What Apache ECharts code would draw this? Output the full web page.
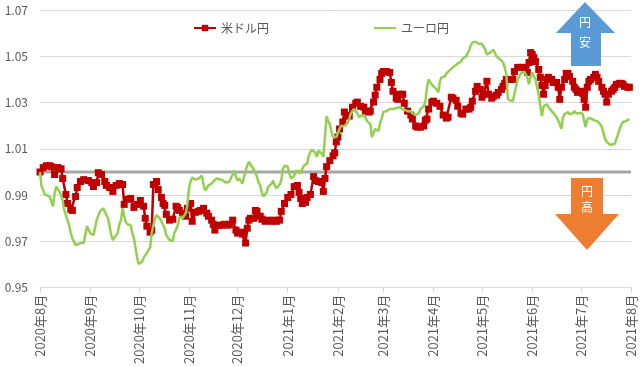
<!DOCTYPE html>
<html><head><meta charset="utf-8">
<script src="https://cdn.jsdelivr.net/npm/echarts@6/dist/echarts.min.js"></script>
<style>html,body{margin:0;padding:0;background:#fff}#c{width:640px;height:367px}</style>
</head><body><div id="c"></div>
<script>
const seriesNames = ['米ドル円', 'ユーロ円'];
const monthTicks = ['2020-08-01','2020-09-01','2020-10-01','2020-11-01','2020-12-01','2021-01-01','2021-02-01','2021-03-01','2021-04-01','2021-05-01','2021-06-01','2021-07-01','2021-08-01'];
const yMin = 0.95, yMax = 1.07, yStep = 0.02;
const baseline = 1.0;

const usdDates = [
'2020-08-01','2020-08-03','2020-08-05','2020-08-07','2020-08-08','2020-08-10','2020-08-12','2020-08-14','2020-08-15','2020-08-17','2020-08-18','2020-08-20','2020-08-21','2020-08-23','2020-08-24','2020-08-26','2020-08-28','2020-08-31',
'2020-09-02','2020-09-03','2020-09-05','2020-09-06','2020-09-08','2020-09-10','2020-09-11','2020-09-13','2020-09-15','2020-09-17','2020-09-19','2020-09-21','2020-09-22','2020-09-24','2020-09-26','2020-09-28','2020-09-30',
'2020-10-02','2020-10-04','2020-10-05','2020-10-06','2020-10-08','2020-10-09','2020-10-10','2020-10-12','2020-10-13','2020-10-15','2020-10-16','2020-10-17','2020-10-18','2020-10-20','2020-10-22','2020-10-24','2020-10-25','2020-10-26','2020-10-28','2020-10-30','2020-10-31',
'2020-11-02','2020-11-03','2020-11-05','2020-11-07','2020-11-08','2020-11-10','2020-11-12','2020-11-13','2020-11-15','2020-11-16','2020-11-17','2020-11-19','2020-11-21','2020-11-23','2020-11-25','2020-11-26','2020-11-28','2020-11-30',
'2020-12-01','2020-12-03','2020-12-04','2020-12-06','2020-12-07','2020-12-08','2020-12-09','2020-12-11','2020-12-12','2020-12-13','2020-12-15','2020-12-16','2020-12-18','2020-12-20','2020-12-22','2020-12-24','2020-12-25','2020-12-27','2020-12-28','2020-12-30',
'2021-01-01','2021-01-03','2021-01-05','2021-01-07','2021-01-08','2021-01-09','2021-01-10','2021-01-12','2021-01-13','2021-01-15','2021-01-17','2021-01-18','2021-01-20','2021-01-22','2021-01-23','2021-01-24','2021-01-25','2021-01-27','2021-01-29','2021-01-30','2021-01-31',
'2021-02-01','2021-02-02','2021-02-04','2021-02-05','2021-02-07','2021-02-08','2021-02-10','2021-02-12','2021-02-13','2021-02-15','2021-02-17','2021-02-18','2021-02-20','2021-02-21','2021-02-23','2021-02-24','2021-02-25','2021-02-27','2021-02-28',
'2021-03-01','2021-03-03','2021-03-05','2021-03-06','2021-03-07','2021-03-09','2021-03-10','2021-03-11','2021-03-13','2021-03-14','2021-03-16','2021-03-18','2021-03-19','2021-03-21','2021-03-22','2021-03-24','2021-03-26','2021-03-27','2021-03-28','2021-03-29','2021-03-31',
'2021-04-01','2021-04-03','2021-04-05','2021-04-07','2021-04-09','2021-04-10','2021-04-12','2021-04-13','2021-04-15','2021-04-16','2021-04-18','2021-04-19','2021-04-21','2021-04-23','2021-04-24','2021-04-25','2021-04-27','2021-04-28','2021-04-30',
'2021-05-01','2021-05-02','2021-05-04','2021-05-05','2021-05-07','2021-05-08','2021-05-10','2021-05-11','2021-05-13','2021-05-14','2021-05-15','2021-05-16','2021-05-18','2021-05-20','2021-05-21','2021-05-23','2021-05-25','2021-05-26','2021-05-28','2021-05-29','2021-05-30','2021-05-31',
'2021-06-01','2021-06-02','2021-06-03','2021-06-05','2021-06-06','2021-06-07','2021-06-08','2021-06-09','2021-06-10','2021-06-11','2021-06-13','2021-06-14','2021-06-16','2021-06-17','2021-06-18','2021-06-19','2021-06-21','2021-06-22','2021-06-23','2021-06-24','2021-06-26','2021-06-27','2021-06-28','2021-06-29',
'2021-07-01','2021-07-02','2021-07-03','2021-07-04','2021-07-05','2021-07-06','2021-07-07','2021-07-09','2021-07-10','2021-07-11','2021-07-12','2021-07-14','2021-07-15','2021-07-16','2021-07-17','2021-07-18','2021-07-20','2021-07-21','2021-07-22','2021-07-23','2021-07-25','2021-07-26','2021-07-27','2021-07-28','2021-07-30','2021-07-31'
];
const usdValues = [
1.0000,1.0019,1.0027,1.0027,1.0023,0.9989,1.0019,1.0014,0.9972,0.9903,0.9864,0.9839,0.9834,0.9894,0.9933,0.9959,0.9967,0.9963,
0.9954,0.9937,0.9954,0.9997,0.9989,0.9959,0.9942,0.9933,0.9916,0.9942,0.9950,0.9946,0.9860,0.9882,0.9886,0.9847,0.9860,
0.9877,0.9852,0.9800,0.9766,0.9740,0.9749,0.9946,0.9959,0.9924,0.9890,0.9864,0.9856,0.9817,0.9792,0.9796,0.9852,0.9847,0.9834,0.9822,0.9809,0.9843,
0.9864,0.9787,0.9826,0.9830,0.9834,0.9843,0.9822,0.9809,0.9792,0.9774,0.9749,0.9770,0.9770,0.9774,0.9770,0.9774,0.9792,0.9749,
0.9736,0.9740,0.9732,0.9693,0.9757,0.9792,0.9800,0.9800,0.9834,0.9830,0.9809,0.9796,0.9787,0.9792,0.9787,0.9792,0.9787,0.9792,0.9830,0.9864,
0.9890,0.9903,0.9937,0.9942,0.9912,0.9886,0.9864,0.9869,0.9890,0.9903,0.9980,0.9963,0.9959,0.9954,0.9916,0.9972,1.0023,1.0049,1.0070,1.0083,1.0130,
1.0151,1.0186,1.0216,1.0259,1.0242,1.0242,1.0280,1.0297,1.0302,1.0284,1.0280,1.0263,1.0259,1.0263,1.0302,1.0332,1.0366,1.0400,1.0426,
1.0434,1.0434,1.0430,1.0387,1.0349,1.0319,1.0314,1.0336,1.0336,1.0297,1.0263,1.0246,1.0229,1.0199,1.0194,1.0194,1.0199,1.0224,1.0229,1.0272,1.0302,
1.0306,1.0297,1.0284,1.0246,1.0233,1.0237,1.0323,1.0319,1.0310,1.0284,1.0254,1.0250,1.0272,1.0272,1.0280,1.0306,1.0349,1.0370,1.0357,
1.0323,1.0336,1.0392,1.0336,1.0319,1.0327,1.0332,1.0344,1.0357,1.0370,1.0383,1.0400,1.0400,1.0400,1.0434,1.0452,1.0452,1.0452,1.0447,1.0430,1.0473,1.0516,
1.0507,1.0494,1.0477,1.0443,1.0409,1.0374,1.0336,1.0374,1.0400,1.0409,1.0400,1.0387,1.0387,1.0366,1.0314,1.0366,1.0400,1.0426,1.0426,1.0413,1.0392,1.0366,1.0357,1.0344,
1.0349,1.0340,1.0314,1.0280,1.0366,1.0392,1.0400,1.0409,1.0422,1.0409,1.0392,1.0366,1.0349,1.0336,1.0302,1.0336,1.0349,1.0357,1.0366,1.0379,1.0383,1.0383,1.0379,1.0370,1.0366,1.0366
];

const eurDates = [
'2020-08-01','2020-08-02','2020-08-03','2020-08-04','2020-08-05','2020-08-07','2020-08-09','2020-08-10','2020-08-11','2020-08-13','2020-08-14','2020-08-15','2020-08-16','2020-08-18','2020-08-19','2020-08-20','2020-08-21','2020-08-23','2020-08-24','2020-08-26','2020-08-28','2020-08-29','2020-08-30','2020-08-31',
'2020-09-01','2020-09-03','2020-09-04','2020-09-05','2020-09-07','2020-09-09','2020-09-10','2020-09-12','2020-09-13','2020-09-14','2020-09-15','2020-09-16','2020-09-18','2020-09-19','2020-09-20','2020-09-21','2020-09-22','2020-09-23','2020-09-24','2020-09-26','2020-09-27','2020-09-28','2020-09-29','2020-09-30',
'2020-10-01','2020-10-02','2020-10-03','2020-10-04','2020-10-05','2020-10-06','2020-10-07','2020-10-08','2020-10-09','2020-10-10','2020-10-11','2020-10-12','2020-10-14','2020-10-15','2020-10-17','2020-10-18','2020-10-20','2020-10-21','2020-10-22','2020-10-23','2020-10-25','2020-10-26','2020-10-27','2020-10-28','2020-10-30','2020-10-31',
'2020-11-01','2020-11-02','2020-11-03','2020-11-04','2020-11-05','2020-11-07','2020-11-08','2020-11-09','2020-11-10','2020-11-11','2020-11-12','2020-11-13','2020-11-15','2020-11-16','2020-11-18','2020-11-19','2020-11-21','2020-11-22','2020-11-24','2020-11-25','2020-11-26','2020-11-28','2020-11-29','2020-11-30',
'2020-12-01','2020-12-02','2020-12-03','2020-12-04','2020-12-06','2020-12-07','2020-12-08','2020-12-09','2020-12-10','2020-12-12','2020-12-13','2020-12-14','2020-12-15','2020-12-16','2020-12-17','2020-12-18','2020-12-19','2020-12-20','2020-12-22','2020-12-23','2020-12-24','2020-12-25','2020-12-27','2020-12-28','2020-12-29','2020-12-30','2020-12-31',
'2021-01-01','2021-01-02','2021-01-03','2021-01-04','2021-01-05','2021-01-06','2021-01-07','2021-01-08','2021-01-09','2021-01-10','2021-01-11','2021-01-12','2021-01-13','2021-01-14','2021-01-15','2021-01-16','2021-01-17','2021-01-18','2021-01-19','2021-01-20','2021-01-21','2021-01-22','2021-01-23','2021-01-24','2021-01-25','2021-01-26','2021-01-27','2021-01-28','2021-01-29','2021-01-30','2021-01-31',
'2021-02-02','2021-02-03','2021-02-04','2021-02-05','2021-02-07','2021-02-08','2021-02-09','2021-02-10','2021-02-11','2021-02-12','2021-02-13','2021-02-14','2021-02-15','2021-02-16','2021-02-17','2021-02-18','2021-02-19','2021-02-20','2021-02-21','2021-02-22','2021-02-23','2021-02-24','2021-02-25','2021-02-26','2021-02-27','2021-02-28',
'2021-03-01','2021-03-03','2021-03-04','2021-03-05','2021-03-07','2021-03-09','2021-03-10','2021-03-11','2021-03-13','2021-03-14','2021-03-16','2021-03-18','2021-03-19','2021-03-21','2021-03-22','2021-03-23','2021-03-24','2021-03-26','2021-03-27','2021-03-28','2021-03-29','2021-03-30','2021-03-31',
'2021-04-01','2021-04-03','2021-04-04','2021-04-05','2021-04-06','2021-04-07','2021-04-08','2021-04-09','2021-04-11','2021-04-12','2021-04-13','2021-04-14','2021-04-16','2021-04-17','2021-04-18','2021-04-19','2021-04-21','2021-04-22','2021-04-23','2021-04-24','2021-04-25','2021-04-27','2021-04-28','2021-04-29','2021-04-30',
'2021-05-01','2021-05-02','2021-05-03','2021-05-04','2021-05-05','2021-05-06','2021-05-07','2021-05-08','2021-05-09','2021-05-10','2021-05-11','2021-05-13','2021-05-14','2021-05-15','2021-05-16','2021-05-17','2021-05-18','2021-05-20','2021-05-21','2021-05-22','2021-05-23','2021-05-24','2021-05-25','2021-05-26','2021-05-27','2021-05-28','2021-05-29','2021-05-30','2021-05-31',
'2021-06-01','2021-06-02','2021-06-03','2021-06-04','2021-06-05','2021-06-06','2021-06-07','2021-06-08','2021-06-09','2021-06-10','2021-06-11','2021-06-12','2021-06-13','2021-06-14','2021-06-15','2021-06-16','2021-06-18','2021-06-19','2021-06-20','2021-06-21','2021-06-22','2021-06-23','2021-06-24','2021-06-25','2021-06-26','2021-06-27','2021-06-28','2021-06-29','2021-06-30',
'2021-07-01','2021-07-02','2021-07-03','2021-07-04','2021-07-05','2021-07-06','2021-07-07','2021-07-08','2021-07-09','2021-07-11','2021-07-12','2021-07-13','2021-07-14','2021-07-15','2021-07-16','2021-07-17','2021-07-18','2021-07-19','2021-07-20','2021-07-22','2021-07-23','2021-07-24','2021-07-25','2021-07-26','2021-07-27','2021-07-28','2021-07-29','2021-07-30','2021-07-31'
];
const eurValues = [
1.0000,0.9937,0.9920,0.9903,0.9899,0.9894,0.9852,0.9907,0.9937,0.9916,0.9899,0.9877,0.9834,0.9792,0.9770,0.9736,0.9714,0.9684,0.9684,0.9693,0.9693,0.9693,0.9766,0.9766,
0.9736,0.9727,0.9727,0.9792,0.9830,0.9843,0.9843,0.9800,0.9766,0.9727,0.9706,0.9714,0.9736,0.9774,0.9792,0.9843,0.9809,0.9783,0.9774,0.9770,0.9736,0.9714,0.9672,0.9629,
0.9603,0.9599,0.9612,0.9629,0.9637,0.9650,0.9663,0.9672,0.9736,0.9770,0.9800,0.9813,0.9800,0.9787,0.9757,0.9727,0.9706,0.9702,0.9702,0.9736,0.9766,0.9800,0.9809,0.9800,0.9822,0.9856,
0.9929,0.9959,0.9976,0.9980,0.9967,0.9972,0.9980,0.9984,0.9946,0.9920,0.9929,0.9942,0.9950,0.9959,0.9972,0.9980,0.9967,0.9959,0.9954,0.9954,0.9959,0.9989,1.0006,0.9980,
0.9963,0.9972,0.9967,0.9950,1.0006,1.0027,1.0044,1.0032,1.0023,0.9997,0.9980,0.9954,0.9942,0.9912,0.9894,0.9886,0.9912,0.9937,0.9950,0.9963,0.9942,0.9929,0.9946,0.9963,1.0014,1.0027,1.0032,
1.0023,0.9993,0.9972,0.9976,0.9984,1.0006,1.0014,1.0002,0.9993,1.0014,1.0027,1.0032,1.0036,1.0070,1.0087,1.0096,1.0100,1.0083,1.0066,1.0092,1.0100,1.0079,1.0066,1.0151,1.0242,1.0220,1.0207,1.0173,1.0151,1.0151,1.0151,
1.0186,1.0199,1.0194,1.0199,1.0212,1.0229,1.0254,1.0263,1.0272,1.0263,1.0254,1.0237,1.0237,1.0246,1.0254,1.0237,1.0220,1.0212,1.0207,1.0151,1.0143,1.0186,1.0194,1.0177,1.0212,1.0229,
1.0259,1.0263,1.0263,1.0272,1.0272,1.0276,1.0280,1.0280,1.0272,1.0267,1.0263,1.0263,1.0254,1.0246,1.0242,1.0254,1.0272,1.0284,1.0306,1.0366,1.0400,1.0387,1.0379,
1.0370,1.0357,1.0344,1.0392,1.0409,1.0417,1.0413,1.0426,1.0439,1.0447,1.0452,1.0456,1.0469,1.0473,1.0477,1.0490,1.0499,1.0507,1.0524,1.0546,1.0559,1.0563,1.0563,1.0554,1.0550,
1.0554,1.0559,1.0529,1.0507,1.0512,1.0516,1.0524,1.0529,1.0512,1.0499,1.0494,1.0482,1.0473,1.0452,1.0422,1.0314,1.0314,1.0306,1.0314,1.0370,1.0400,1.0413,1.0426,1.0434,1.0434,1.0430,1.0409,1.0379,1.0409,
1.0430,1.0413,1.0400,1.0366,1.0336,1.0284,1.0242,1.0284,1.0289,1.0293,1.0280,1.0272,1.0263,1.0259,1.0246,1.0237,1.0207,1.0186,1.0237,1.0250,1.0254,1.0259,1.0250,1.0242,1.0254,1.0263,1.0254,1.0250,1.0254,
1.0259,1.0254,1.0250,1.0194,1.0229,1.0237,1.0233,1.0229,1.0224,1.0220,1.0212,1.0207,1.0194,1.0186,1.0143,1.0130,1.0122,1.0117,1.0113,1.0122,1.0130,1.0164,1.0186,1.0203,1.0216,1.0220,1.0220,1.0224,1.0229
];

function ts(s) { const p = s.split('-').map(Number); return new Date(p[0], p[1] - 1, p[2]).getTime(); }
const pairs = (d, v) => d.map((s, i) => [ts(s), v[i]]);
const tickTs = monthTicks.map(ts);
const xMin = tickTs[0], xMax = tickTs[tickTs.length - 1];
const FONT = '"Noto Sans CJK JP", "Noto Sans", sans-serif';
const chart = echarts.init(document.getElementById('c'), null, {renderer: 'canvas'});
chart.setOption({
  animation: false,
  backgroundColor: '#ffffff',
  textStyle: {fontFamily: FONT},
  grid: {left: 40, right: 9, top: 10, bottom: 77, containLabel: false},
  legend: {
    data: [{name: seriesNames[0]}, {name: seriesNames[1], itemStyle: {opacity: 0}}],
    left: 193, top: 22, padding: 0,
    itemWidth: 22, itemHeight: 8, itemGap: 104,
    textStyle: {color: '#595959', fontSize: 12, fontFamily: FONT}
  },
  xAxis: {
    type: 'value',
    min: xMin, max: xMax,
    axisLine: {show: true, onZero: false, lineStyle: {color: '#d9d9d9', width: 1}},
    axisTick: {show: true, customValues: tickTs, length: 5, lineStyle: {color: '#d9d9d9'}},
    axisLabel: {
      customValues: tickTs, rotate: 90, margin: 7,
      color: '#595959', fontSize: 13, fontFamily: FONT,
      formatter: function (v) { const d = new Date(v); return d.getFullYear() + '年' + (d.getMonth() + 1) + '月'; }
    },
    splitLine: {show: false}
  },
  yAxis: {
    type: 'value', min: yMin, max: yMax, interval: yStep,
    axisLine: {show: false}, axisTick: {show: false},
    axisLabel: {color: '#595959', fontSize: 12, margin: 12, fontFamily: FONT, formatter: v => v.toFixed(2)},
    splitLine: {lineStyle: {color: '#d9d9d9', width: 1}}
  },
  series: [
    {
      name: 'base', type: 'line', z: 1, silent: true, symbol: 'none',
      data: [[xMin, baseline], [xMax, baseline]],
      lineStyle: {color: '#a6a6a6', width: 3}
    },
    {
      name: seriesNames[0], type: 'line', z: 3,
      data: pairs(usdDates, usdValues),
      symbol: 'rect', symbolSize: 7, showSymbol: true, showAllSymbol: true,
      lineStyle: {color: '#c00000', width: 2.5},
      itemStyle: {color: '#c00000'}
    },
    {
      name: seriesNames[1], type: 'line', z: 4,
      data: pairs(eurDates, eurValues),
      symbol: 'none',
      lineStyle: {color: '#92d050', width: 2.5},
      itemStyle: {color: '#92d050'}
    }
  ],
  graphic: [
    {type: 'polygon', z: 10, shape: {points: [[585,2],[615,33],[601,33],[601,66],[571,66],[571,33],[556,33]]}, style: {fill: '#5b9bd5'}},
    {type: 'text', z: 11, left: 579, top: 16, style: {text: '円', fill: '#ffffff', font: '12px ' + FONT}},
    {type: 'text', z: 11, left: 579, top: 36, style: {text: '安', fill: '#ffffff', font: '12px ' + FONT}},
    {type: 'polygon', z: 10, shape: {points: [[571,178],[603,178],[603,214],[619,214],[587,250],[555,214],[571,214]]}, style: {fill: '#ed7d31'}},
    {type: 'text', z: 11, left: 581, top: 185, style: {text: '円', fill: '#ffffff', font: '12px ' + FONT}},
    {type: 'text', z: 11, left: 581, top: 201, style: {text: '高', fill: '#ffffff', font: '12px ' + FONT}}
  ]
});
</script>
</body></html>
